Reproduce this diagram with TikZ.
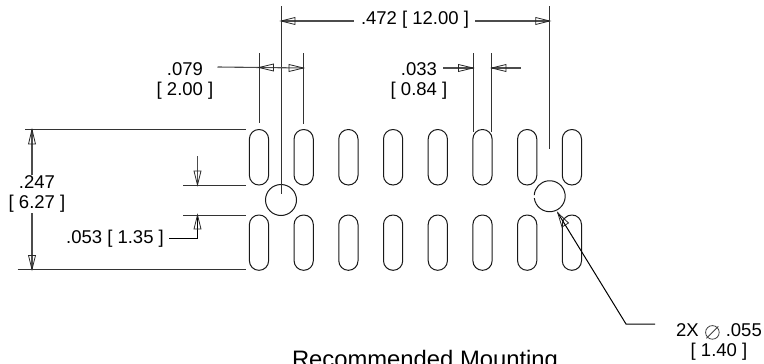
\documentclass[tikz,border=0pt]{standalone}
\usepackage{fontspec}
\setmainfont{Liberation Sans}
\tikzset{
  x=1pt,y=-1pt,
  dim/.style={draw=black!70,line width=1.1pt},
  ext/.style={draw=black!80,line width=1pt},
  slot/.style={draw=black!90,line width=1pt,rounded corners=9.5pt},
  hole/.style={circle,minimum size=31pt,inner sep=0pt},
  ring/.style={draw=black!90,line width=1pt},
  lab/.style={font=\fontsize{18.5}{20}\selectfont,inner sep=0pt,align=center},
  title/.style={font=\fontsize{23.8}{26}\selectfont,inner sep=0pt,anchor=base},
  tip/.style={draw=black!85,line width=0.8pt,fill=none},
  diasym/.style={draw=black!75,line width=0.8pt},
}
\newcommand{\harrow}[3]{\draw[tip] (#1,#3) -- (#2,#3-3.5) -- (#2,#3+3.5) -- cycle;}
\newcommand{\varrow}[3]{\draw[tip] (#3,#1) -- (#3-3.5,#2) -- (#3+3.5,#2) -- cycle;}
\begin{document}
\begin{tikzpicture}
\useasboundingbox (0,0) rectangle (764,364);
% slots
\foreach \c in {259,303.7,348.4,393.1,437.8,482.5,527.2,571.9}{
  \draw[slot] (\c-9.6,129.5) rectangle (\c+9.6,185);
  \draw[slot] (\c-9.6,215) rectangle (\c+9.6,270.3);
}
% holes
\node[hole,draw=black!90,line width=1pt] (hl) at (281,200) {};
\node[hole] (hr) at (549.7,200) {};
\draw[ring] (hr.center) ++(-173:15.5) arc[start angle=173,end angle=-176,radius=15.5];
% labels
\node[lab] (t472) at (415,20) {.472 [ 12.00 ]};
\node[lab] (t079) at (185,81) {.079\\[0pt] [ 2.00 ]};
\node[lab] (t033) at (419,81) {.033\\[0pt] [ 0.84 ]};
\node[lab] (t247) at (37,194) {.247\\[0pt] [ 6.27 ]};
\node[lab] (t053) at (115,239) {.053 [ 1.35 ]};
\node[lab] (t055) at (719,342) {2X\hspace{27pt}.055\\[0pt] [ 1.40 ]};
\node[title] (ttl) at (425,367.5) {Recommended Mounting};
% diameter symbol
\coordinate (dia) at (712.4,332.4);
\draw[diasym] (dia) circle[radius=6.8];
\draw[diasym] (dia) ++(-5.9,5.9) -- ++(11.8,-11.8);
% coordinates
\coordinate (a) at (281,6);
\coordinate (a1) at (281,194);
\coordinate (b) at (549.7,6);
\coordinate (b1) at (549.7,149);
\coordinate (d472l) at (281,21);
\coordinate (d472r) at (549.7,21);
\coordinate (e1) at (259,53); \coordinate (e2) at (259,123);
\coordinate (f1) at (303.5,53); \coordinate (f2) at (303.5,124);
\coordinate (g1) at (473,53); \coordinate (g2) at (473,132);
\coordinate (h1) at (491.7,53); \coordinate (h2) at (491.7,132);
% extension lines
\draw[ext] (a) -- (a1);
\draw[ext] (b) -- (b1);
\draw[ext] (e1) -- (e2);
\draw[ext] (f1) -- (f2);
\draw[ext] (g1) -- (g2);
\draw[ext] (h1) -- (h2);
\coordinate (k1) at (25,129.5); \coordinate (k2) at (245.5,129.5);
\coordinate (l1) at (17.5,269.5); \coordinate (l2) at (245.5,269.5);
\coordinate (m1) at (183,185); \coordinate (m2) at (245.5,185);
\coordinate (n1) at (183,215); \coordinate (n2) at (245.5,215);
\draw[ext] (k1) -- (k2);
\draw[ext] (l1) -- (l2);
\draw[ext] (m1) -- (m2);
\draw[ext] (n1) -- (n2);
% .472
\draw[dim] (d472l) -- (353.7,21);
\draw[dim] (475,21) -- (d472r);
\harrow{281}{295}{21}
\harrow{549.7}{535.7}{21}
% .079
\draw[dim] (217.5,67) -- (303.5,68);
\harrow{259}{273.5}{67.5}
\harrow{303.5}{289}{68}
% .033
\draw[dim] (443,68) -- (473,68);
\draw[dim] (520.7,68) -- (491.7,68);
\harrow{473}{458.5}{68}
\harrow{491.7}{506}{68}
% .247
\draw[dim] (32,129.5) -- (32,175) ;
\draw[dim] (32,213) -- (32,269.5);
\varrow{129.5}{144}{32}
\varrow{269.5}{255.5}{32}
% .053
\draw[dim] (197.5,156) -- (197.5,185);
\varrow{185}{171}{197.5}
\draw[ext,draw=black] (197.5,215) -- (197.5,238.5) -- (169,238.5);
\varrow{215}{229}{197.5}
% leader
\draw[ext,draw=black] (557.7,212.7) -- (626,324) -- (655,324);
\draw[tip] (557.7,212.7) -- (562,227) -- (568.5,223) -- cycle;
\end{tikzpicture}
\end{document}
